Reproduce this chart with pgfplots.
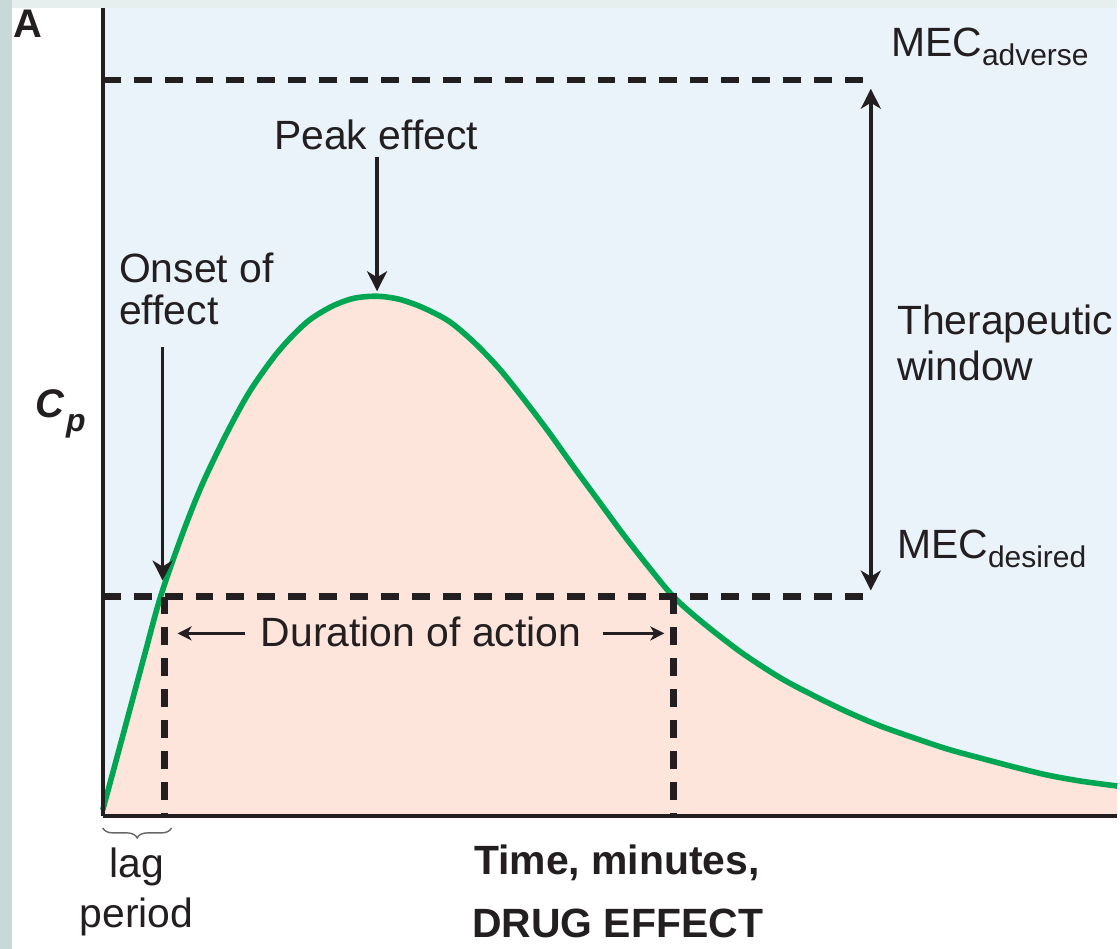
\documentclass[border=0pt]{standalone}
\usepackage{pgfplots}
\pgfplotsset{compat=1.18}
\usepackage{fontspec}
\setmainfont{Liberation Sans}
\usetikzlibrary{arrows.meta,decorations.pathreplacing}
\definecolor{bgblue}{HTML}{EAF2FA}
\definecolor{pinkfill}{HTML}{FDE5DC}
\definecolor{curvegreen}{HTML}{00A651}
\definecolor{ink}{HTML}{231F20}
\definecolor{strip}{HTML}{C9D9D8}
\definecolor{topstrip}{HTML}{E6EEEE}
\newcommand\lab{\fontsize{20.5}{24}\selectfont}
\newcommand\sublab{\fontsize{15}{18}\selectfont}

\pgfplotstableread{
x y
0 6
20 80
41 158
58 220
80 283
100 333
125 385
147 425
170 458
187 478
207 497
230 511
252 519
275 521
297 518
320 510
347 496
372 475
397 449
422 418
447 385
472 350
497 316
522 282
547 250
572 220
600 195
640 164
680 138
714 120
747 104
780 90
814 78
847 67
880 58
914 49
947 41
980 35
1017 30
}\curvedata

\begin{document}
\begin{tikzpicture}
\begin{axis}[
  scale only axis, width=508.5pt, height=405pt,
  xmin=0, xmax=1017, ymin=0, ymax=810,
  enlargelimits=false,
  axis lines=left, axis line style={-, line width=2.2pt, color=ink},
  xtick=\empty, ytick=\empty,
  clip=false, axis on top,
]
% backgrounds
\fill[white] (axis cs:-103,-133) rectangle (axis cs:1017,818);
\fill[topstrip] (axis cs:-103,810) rectangle (axis cs:1017,818);
\fill[strip] (axis cs:-103,-133) rectangle (axis cs:-91,818);
\fill[bgblue] (axis cs:0,0) rectangle (axis cs:1017,810);
% area under curve
\addplot[draw=none, fill=pinkfill, smooth] table[x=x,y=y] {\curvedata} \closedcycle;
% curve
\addplot[curvegreen, line width=2.8pt, smooth] table[x=x,y=y] {\curvedata};
% dashed MEC lines
\addplot[ink, line width=3.2pt, dash pattern=on 9pt off 6.5pt] coordinates {(0,738) (772,738)};
\addplot[ink, line width=3.2pt, dash pattern=on 9pt off 6.5pt] coordinates {(0,220) (772,220)};
\addplot[ink, line width=3.2pt, dash pattern=on 9pt off 6.5pt] coordinates {(62,220) (62,0)};
\addplot[ink, line width=3.2pt, dash pattern=on 9pt off 6.5pt] coordinates {(572,220) (572,0)};
% therapeutic window double arrow
\draw[ink, line width=1.8pt, {Stealth[length=10pt,width=10pt,inset=3pt]}-{Stealth[length=10pt,width=10pt,inset=3pt]}]
  (axis cs:770,729) -- (axis cs:770,226);
% peak arrow
\draw[ink, line width=1.8pt, -{Stealth[length=10pt,width=10pt,inset=3pt]}]
  (axis cs:275,661) -- (axis cs:275,526);
% onset arrow
\draw[ink, line width=1.8pt, -{Stealth[length=10pt,width=10pt,inset=3pt]}]
  (axis cs:60,470) -- (axis cs:60,236);
% duration arrows
\draw[ink, line width=1.6pt, -{Stealth[length=7pt,width=7pt,inset=2pt]}]
  (axis cs:143,183) -- (axis cs:75,183);
\draw[ink, line width=1.6pt, -{Stealth[length=7pt,width=7pt,inset=2pt]}]
  (axis cs:501,183) -- (axis cs:563,183);
% brace
\draw[decorate, decoration={brace, mirror, amplitude=5pt}, black!60, line width=0.7pt]
  (axis cs:0,-12) -- (axis cs:69,-12);
% texts
\node[anchor=base west, inner sep=0, text=ink, font=\fontsize{20}{24}\selectfont\bfseries] at (axis cs:-90,780) {A};
\node[anchor=base west, inner sep=0, text=ink, font=\fontsize{20}{24}\selectfont\bfseries\itshape] at (axis cs:-68,399) {C\kern1pt\raisebox{-7pt}{\fontsize{16}{18}\selectfont p}};
\node[anchor=base, inner sep=0, text=ink, font=\lab] at (axis cs:274,668) {Peak effect};
\node[anchor=base west, inner sep=0, text=ink, font=\lab] at (axis cs:16,535) {Onset of};
\node[anchor=base west, inner sep=0, text=ink, font=\lab] at (axis cs:16,493) {effect};
\node[anchor=base west, inner sep=0, text=ink, font=\lab] at (axis cs:796,483) {Therapeutic};
\node[anchor=base west, inner sep=0, text=ink, font=\lab] at (axis cs:796,437) {window};
\node[anchor=base west, inner sep=0, text=ink, font=\lab] at (axis cs:790,761) {MEC\raisebox{-4.5pt}{\sublab adverse}};
\node[anchor=base west, inner sep=0, text=ink, font=\lab] at (axis cs:796,258) {MEC\raisebox{-4.5pt}{\sublab desired}};
\node[anchor=base west, inner sep=0, text=ink, font=\lab] at (axis cs:158,170) {Duration of action};
\node[anchor=base west, inner sep=0, text=ink, font=\lab\bfseries] at (axis cs:372,-59) {Time, minutes,};
\node[anchor=base west, inner sep=0, text=ink, font=\lab\bfseries] at (axis cs:370,-122) {DRUG EFFECT};
\node[anchor=base, inner sep=0, text=ink, font=\lab] at (axis cs:34,-62) {lag};
\node[anchor=base, inner sep=0, text=ink, font=\lab] at (axis cs:34,-112) {period};
\end{axis}
\end{tikzpicture}
\end{document}
